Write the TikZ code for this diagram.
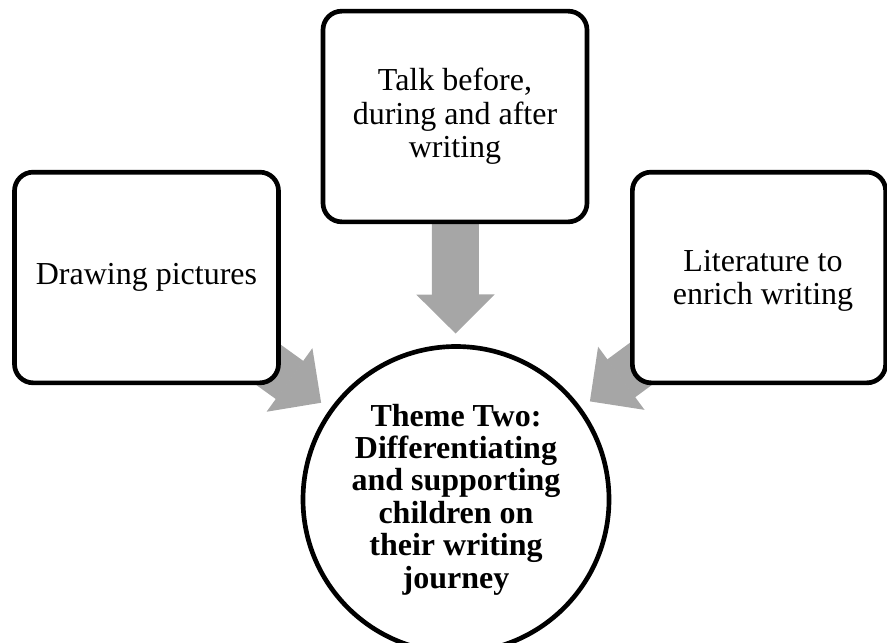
\documentclass[tikz,border=0pt]{standalone}
\usepackage{fontspec}
\setmainfont{Liberation Serif}
\usetikzlibrary{arrows.meta}
\pgfdeclarelayer{arrowlayer}
\pgfsetlayers{arrowlayer,main}
\definecolor{arrowgray}{HTML}{A6A6A6}
\tikzset{
  topic/.style={draw=black, line width=3.5pt, fill=white, rounded corners=14pt,
    minimum width=198pt, minimum height=158pt, inner sep=0pt, align=center,
    font=\fontsize{24pt}{25pt}\selectfont},
  theme/.style={draw=black, line width=3.5pt, fill=white, circle,
    minimum size=229.5pt, inner sep=0pt, align=center,
    font=\fontsize{24pt}{24.3pt}\selectfont\bfseries},
  feed/.style={draw=arrowgray, fill=arrowgray, line width=35.25pt,
    -{Triangle[length=29.25pt,width=58.5pt,line width=1.5pt]},
    shorten <=-60pt, shorten >=8pt}
}
\begin{document}
\begin{tikzpicture}[x=0.75pt, y=-0.75pt]
  \useasboundingbox (0,0) rectangle (887,642);

  % three contributing topics and the central theme
  \node[topic] (draw) at (146.5,277.5) {Drawing pictures};
  \node[topic] (talk) at (455,116.5) {Talk before,\\during and after\\writing};
  \node[topic, minimum width=190pt, inner xsep=3pt, text depth=0pt] (lit) at (759,277.5)
    {\hspace*{6pt}Literature to\\\hspace*{6pt}enrich writing};
  \node[theme] (core) at (456,499.5)
    {Theme Two:\\Differentiating\\and supporting\\children on\\their writing\\journey};

  % block arrows converging on the theme, tucked behind the boxes
  \begin{pgfonlayer}{arrowlayer}
    \draw[feed] (draw) -- (core);
    \draw[feed] (talk) -- (core);
    \draw[feed] (lit)  -- (core);
  \end{pgfonlayer}
\end{tikzpicture}
\end{document}
